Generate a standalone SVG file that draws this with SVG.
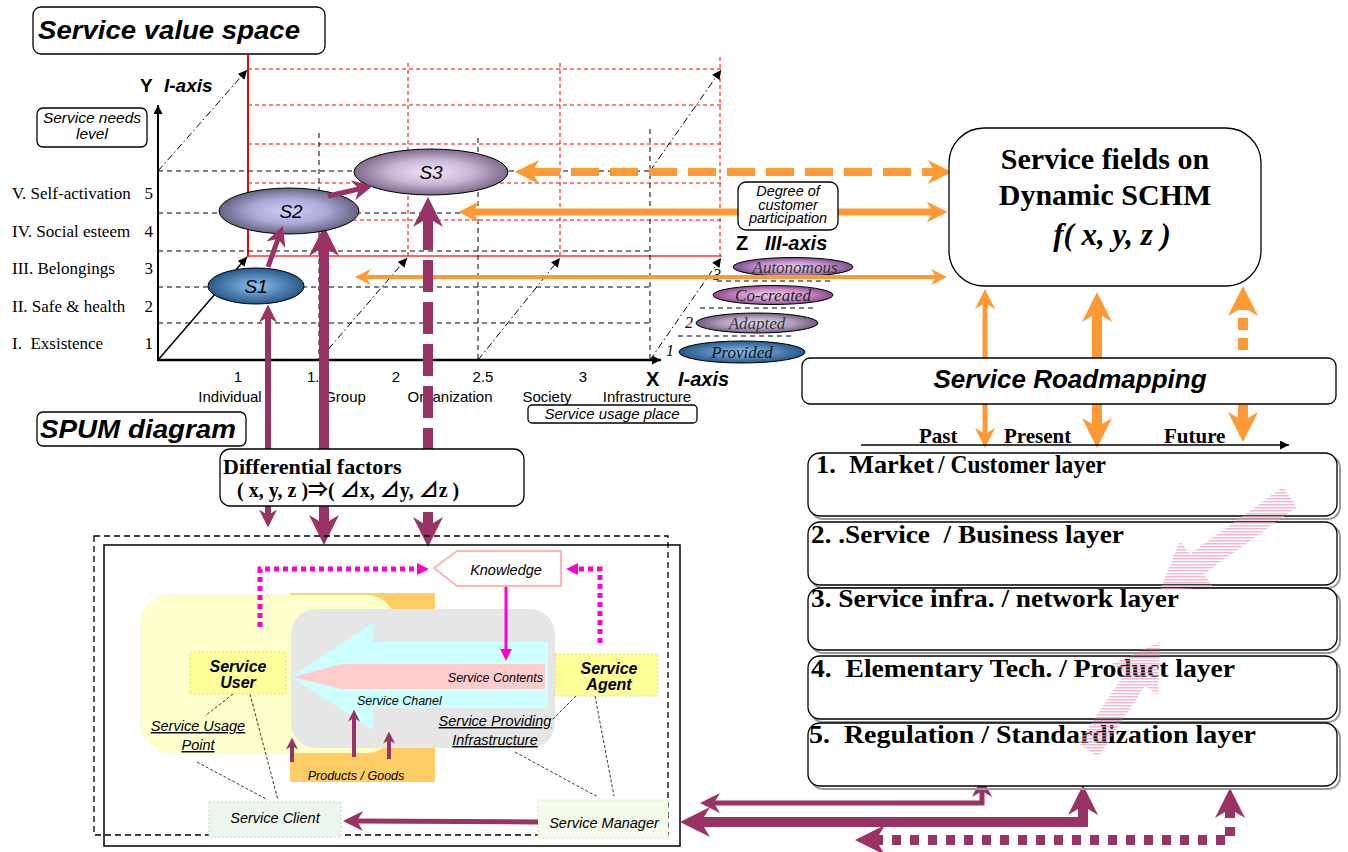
<svg xmlns="http://www.w3.org/2000/svg" width="1348" height="852" viewBox="0 0 1348 852">
<style>
  .sans{font-family:"Liberation Sans",Arial,sans-serif}
  .serif{font-family:"Liberation Serif","Times New Roman",serif}
  .box{fill:#fff;stroke:#000;stroke-width:1.3}
  .rd{stroke:#ff0000;stroke-width:1;stroke-dasharray:4 3;fill:none}
  .kd{stroke:#000;stroke-width:1;stroke-dasharray:5 4;fill:none}
  .dd{stroke:#000;stroke-width:1;stroke-dasharray:7 3 1.5 3;fill:none}
  .or{stroke:#ff9933;fill:none}
  .pu{stroke:#993366;fill:none}
  .mg{stroke:#ff00cc;fill:none}
  .lead{stroke:#000;stroke-width:0.8;stroke-dasharray:3 2;fill:none}
  .layer{fill:#fff;stroke:#000;stroke-width:1.3}
  .shadow{fill:none;stroke:#999;stroke-width:2}
  .lt{font-family:"Liberation Serif","Times New Roman",serif;font-weight:bold;font-size:26px}
</style>
<defs>
  <marker id="m-or3" viewBox="0 0 10 10" refX="3" refY="5" markerWidth="3" markerHeight="3" orient="auto-start-reverse" markerUnits="strokeWidth"><path d="M0,0 L10,5 L0,10 L3,5 z" fill="#ff9933"/></marker>
  <marker id="m-or4" viewBox="0 0 10 10" refX="3" refY="5" markerWidth="4" markerHeight="4" orient="auto-start-reverse" markerUnits="strokeWidth"><path d="M0,0 L10,5 L0,10 L3,5 z" fill="#ff9933"/></marker>
  <marker id="m-pu3" viewBox="0 0 10 10" refX="3" refY="5" markerWidth="3" markerHeight="3" orient="auto-start-reverse" markerUnits="strokeWidth"><path d="M0,0 L10,5 L0,10 L3,5 z" fill="#993366"/></marker>
  <marker id="m-pu4" viewBox="0 0 10 10" refX="3" refY="5" markerWidth="4" markerHeight="4" orient="auto-start-reverse" markerUnits="strokeWidth"><path d="M0,0 L10,5 L0,10 L3,5 z" fill="#993366"/></marker>
  <marker id="m-mg" viewBox="0 0 10 10" refX="1" refY="5" markerWidth="12" markerHeight="12" orient="auto" markerUnits="userSpaceOnUse"><path d="M0,0 L10,5 L0,10 z" fill="#ff00cc"/></marker>
  <marker id="m-k" viewBox="0 0 10 10" refX="10" refY="5" markerWidth="10" markerHeight="9" orient="auto" markerUnits="userSpaceOnUse"><path d="M0,0 L10,5 L0,10 z" fill="#000"/></marker>
  <radialGradient id="g-blue" cx="0.5" cy="0.5" r="0.55"><stop offset="0" stop-color="#8cc3ee"/><stop offset="1" stop-color="#1f4c80"/></radialGradient>
  <radialGradient id="g-s2" cx="0.5" cy="0.5" r="0.55"><stop offset="0" stop-color="#d0d0fa"/><stop offset="0.5" stop-color="#aaa8d6"/><stop offset="1" stop-color="#56546c"/></radialGradient>
  <radialGradient id="g-s3" cx="0.5" cy="0.5" r="0.55"><stop offset="0" stop-color="#f3e6f8"/><stop offset="0.5" stop-color="#c7b4d4"/><stop offset="1" stop-color="#6c5a7c"/></radialGradient>
  <radialGradient id="g-vio" cx="0.5" cy="0.5" r="0.55"><stop offset="0" stop-color="#ecd2f0"/><stop offset="0.55" stop-color="#bb8ec8"/><stop offset="1" stop-color="#6c3c7c"/></radialGradient>
  <radialGradient id="g-mag" cx="0.5" cy="0.5" r="0.55"><stop offset="0" stop-color="#f4d6f0"/><stop offset="0.55" stop-color="#c88ac4"/><stop offset="1" stop-color="#7a3a78"/></radialGradient>
  <radialGradient id="g-adp" cx="0.5" cy="0.5" r="0.55"><stop offset="0" stop-color="#e6dcea"/><stop offset="0.55" stop-color="#b09cbc"/><stop offset="1" stop-color="#5e4a6c"/></radialGradient>
  <pattern id="hatch" width="4" height="3" patternUnits="userSpaceOnUse"><rect width="4" height="1.5" fill="#f2a0c4"/></pattern>
</defs>

<!-- ========== Service value space ========== -->
<g id="title-svs">
  <rect class="box" x="33" y="7" width="292" height="47" rx="8"/>
  <text class="sans" x="38" y="39" font-size="26" font-weight="bold" font-style="italic" textLength="262" lengthAdjust="spacingAndGlyphs">Service value space</text>
</g>

<!-- grid of the value space -->
<g id="grid">
  <line x1="248" y1="54" x2="248" y2="257" stroke="#ff0000" stroke-width="2"/>
  <line class="rd" x1="248" y1="69" x2="722" y2="69"/>
  <line class="rd" x1="248" y1="105" x2="722" y2="105"/>
  <line class="rd" x1="248" y1="144" x2="722" y2="144"/>
  <line class="rd" x1="248" y1="183" x2="722" y2="183"/>
  <line class="rd" x1="248" y1="220" x2="722" y2="220"/>
  <line class="rd" x1="408" y1="63" x2="408" y2="256"/>
  <line class="rd" x1="560" y1="63" x2="560" y2="256"/>
  <line class="rd" x1="720" y1="57" x2="720" y2="256"/>
  <line x1="248" y1="256" x2="722" y2="256" stroke="#ff3333" stroke-width="1.5"/>

  <line class="kd" x1="158" y1="171" x2="650" y2="171"/>
  <line class="kd" x1="158" y1="213" x2="650" y2="213"/>
  <line class="kd" x1="158" y1="251" x2="652" y2="251"/>
  <line class="kd" x1="158" y1="287" x2="652" y2="287"/>
  <line class="kd" x1="158" y1="323" x2="650" y2="323"/>
  <line class="kd" x1="319" y1="133" x2="319" y2="360"/>
  <line class="kd" x1="478" y1="138" x2="478" y2="360"/>
  <line class="kd" x1="650" y1="129" x2="650" y2="360"/>

  <line class="dd" x1="158" y1="171" x2="247" y2="70" marker-end="url(#m-k)"/>
  <line class="dd" x1="650" y1="171" x2="721" y2="70" marker-end="url(#m-k)"/>
  <line class="dd" x1="319" y1="360" x2="407" y2="258" marker-end="url(#m-k)"/>
  <line class="dd" x1="478" y1="360" x2="560" y2="258" marker-end="url(#m-k)"/>
  <line class="dd" x1="650" y1="360" x2="721" y2="258" marker-end="url(#m-k)"/>
  <line x1="158" y1="360" x2="247" y2="257" stroke="#000" stroke-width="1.5" marker-end="url(#m-k)"/>

  <line x1="158" y1="361" x2="158" y2="105" stroke="#000" stroke-width="2" marker-end="url(#m-k)"/>
  <line x1="157" y1="360" x2="661" y2="360" stroke="#000" stroke-width="2.5" marker-end="url(#m-k)"/>

  <line class="kd" x1="717" y1="281" x2="833" y2="281"/>
  <line class="kd" x1="700" y1="308" x2="815" y2="308"/>
  <line class="kd" x1="678" y1="336" x2="793" y2="336"/>
</g>

<!-- axis captions -->
<g id="axis-y">
  <text class="sans" x="140" y="92" font-size="19" font-weight="bold">Y</text>
  <text class="sans" x="164" y="92" font-size="19" font-weight="bold" font-style="italic">I-axis</text>
  <rect class="box" x="37" y="108" width="110" height="39" rx="6" stroke-width="1"/>
  <text class="sans" x="92" y="123" font-size="15.5" font-style="italic" text-anchor="middle">Service needs</text>
  <text class="sans" x="92" y="139" font-size="15.5" font-style="italic" text-anchor="middle">level</text>
  <g class="serif" font-size="17">
    <text x="12" y="199">V. Self-activation</text><text x="153" y="199" text-anchor="end">5</text>
    <text x="12" y="237">IV. Social esteem</text><text x="153" y="237" text-anchor="end">4</text>
    <text x="12" y="274">III. Belongings</text><text x="153" y="274" text-anchor="end">3</text>
    <text x="12" y="312">II. Safe &amp; health</text><text x="153" y="312" text-anchor="end">2</text>
    <text x="12" y="349" xml:space="preserve">I.  Exsistence</text><text x="153" y="349" text-anchor="end">1</text>
  </g>
</g>

<g id="axis-x" class="sans" font-size="15">
  <text x="238" y="382" text-anchor="middle">1</text>
  <text x="307" y="382">1.5</text>
  <text x="396" y="382" text-anchor="middle">2</text>
  <text x="483" y="382" text-anchor="middle">2.5</text>
  <text x="583" y="382" text-anchor="middle">3</text>
  <text x="230" y="402" text-anchor="middle">Individual</text>
  <text x="345" y="402" text-anchor="middle">Group</text>
  <text x="450" y="402" text-anchor="middle">Organization</text>
  <text x="547" y="402" text-anchor="middle">Society</text>
  <text x="647" y="402" text-anchor="middle">Infrastructure</text>
  <text x="646" y="386" font-size="20" font-weight="bold">X</text>
  <text x="678" y="386" font-size="20" font-weight="bold" font-style="italic">I-axis</text>
  <rect class="box" x="528" y="405" width="169" height="18" rx="4" stroke-width="1"/>
  <text x="612" y="419" text-anchor="middle" font-style="italic">Service usage place</text>
</g>

<g id="axis-z">
  <text class="sans" x="736" y="250" font-size="20" font-weight="bold">Z</text>
  <text class="sans" x="765" y="250" font-size="20" font-weight="bold" font-style="italic">III-axis</text>
  <g class="serif" font-size="16" font-style="italic">
    <text x="713" y="280">3</text>
    <text x="685" y="328">2</text>
    <text x="666" y="356">1</text>
  </g>
</g>

<g id="z-autonomous">
  <ellipse cx="793" cy="267" rx="60" ry="9.5" fill="url(#g-vio)" stroke="#000" stroke-width="1"/>
  <text class="serif" x="795" y="273" font-size="17" font-style="italic" text-anchor="middle" fill="#333">Autonomous</text>
</g>
<g id="z-cocreated">
  <ellipse cx="773" cy="295" rx="60" ry="9.5" fill="url(#g-mag)" stroke="#000" stroke-width="1"/>
  <text class="serif" x="773" y="301" font-size="17" font-style="italic" text-anchor="middle" fill="#222">Co-created</text>
</g>
<g id="z-adapted">
  <ellipse cx="757" cy="323" rx="61" ry="10" fill="url(#g-adp)" stroke="#000" stroke-width="1"/>
  <text class="serif" x="757" y="329" font-size="17" font-style="italic" text-anchor="middle" fill="#333">Adapted</text>
</g>
<g id="z-provided">
  <ellipse cx="742" cy="352" rx="63" ry="11" fill="url(#g-blue)" stroke="#000" stroke-width="1"/>
  <text class="serif" x="742" y="358" font-size="17" font-style="italic" text-anchor="middle" fill="#111">Provided</text>
</g>

<!-- connectors -->
<g id="connectors">
  <!-- value space to Service fields -->
  <line class="or" x1="532" y1="172" x2="935" y2="172" stroke-width="8" stroke-dasharray="28 11" marker-start="url(#m-or3)" marker-end="url(#m-or3)"/>
  <line class="or" x1="473" y1="212" x2="933" y2="212" stroke-width="7" marker-start="url(#m-or3)" marker-end="url(#m-or3)"/>
  <line class="or" x1="366" y1="277" x2="936" y2="277" stroke-width="4" marker-start="url(#m-or4)" marker-end="url(#m-or4)"/>
  <!-- roadmapping to Service fields and timeline -->
  <line class="or" x1="985" y1="358" x2="985" y2="303" stroke-width="5" marker-end="url(#m-or4)"/>
  <line class="or" x1="985" y1="404" x2="985" y2="434" stroke-width="5" marker-end="url(#m-or4)"/>
  <line class="or" x1="1097" y1="358" x2="1097" y2="313" stroke-width="10" marker-end="url(#m-or3)"/>
  <line class="or" x1="1097" y1="404" x2="1097" y2="427" stroke-width="10" marker-end="url(#m-or3)"/>
  <line class="or" x1="1243" y1="350" x2="1243" y2="307" stroke-width="10" stroke-dasharray="12 8" marker-end="url(#m-or3)"/>
  <line class="or" x1="1243" y1="405" x2="1243" y2="421" stroke-width="10" marker-end="url(#m-or3)"/>

  <!-- value space down to SPUM -->
  <line class="pu" x1="268" y1="317" x2="268" y2="515" stroke-width="6" marker-start="url(#m-pu3)" marker-end="url(#m-pu3)"/>
  <line class="pu" x1="324" y1="247" x2="324" y2="524" stroke-width="10" marker-start="url(#m-pu3)" marker-end="url(#m-pu3)"/>
  <line class="pu" x1="428" y1="218" x2="428" y2="526" stroke-width="10" stroke-dasharray="32 10" marker-start="url(#m-pu3)" marker-end="url(#m-pu3)"/>

  <!-- SPUM to layers -->
  <polyline class="pu" points="982,791 982,803 714,803" stroke-width="5" marker-start="url(#m-pu4)" marker-end="url(#m-pu4)"/>
  <polyline class="pu" points="1083,806 1083,822 701,822" stroke-width="10" marker-start="url(#m-pu3)" marker-end="url(#m-pu3)"/>
  <polyline class="pu" points="1230,809 1230,840 876,840" stroke-width="10" stroke-dasharray="9 9" marker-start="url(#m-pu3)" marker-end="url(#m-pu3)"/>
</g>

<!-- value points -->
<g id="S1">
  <ellipse cx="256" cy="286" rx="48" ry="18" fill="url(#g-blue)" stroke="#000" stroke-width="1"/>
  <text class="sans" x="256" y="293" font-size="19" font-style="italic" text-anchor="middle">S1</text>
</g>
<g id="S2">
  <ellipse cx="289" cy="211" rx="70" ry="23" fill="url(#g-s2)" stroke="#000" stroke-width="1"/>
  <text class="sans" x="291" y="218" font-size="19" font-style="italic" text-anchor="middle">S2</text>
</g>
<g id="S3">
  <ellipse cx="431" cy="172" rx="77" ry="23" fill="url(#g-s3)" stroke="#000" stroke-width="1"/>
  <text class="sans" x="431" y="179" font-size="19" font-style="italic" text-anchor="middle">S3</text>
</g>
<g id="value-path">
  <line class="pu" x1="268" y1="267" x2="278" y2="239" stroke-width="5" marker-end="url(#m-pu4)"/>
  <line class="pu" x1="328" y1="196" x2="359" y2="189" stroke-width="5" marker-end="url(#m-pu4)"/>
</g>

<g id="degree-box">
  <rect class="box" x="738" y="182" width="100" height="48" rx="8" stroke-width="1"/>
  <g class="sans" font-size="14.5" font-style="italic" text-anchor="middle">
    <text x="788" y="195.5">Degree of</text>
    <text x="788" y="209.5">customer</text>
    <text x="788" y="223">participation</text>
  </g>
</g>

<!-- ========== right side ========== -->
<g id="service-fields">
  <rect class="box" x="949" y="128" width="312" height="158" rx="35" stroke-width="1.5"/>
  <g class="serif" font-weight="bold" text-anchor="middle">
    <text x="1105" y="169" font-size="30">Service fields on</text>
    <text x="1105" y="205" font-size="30">Dynamic SCHM</text>
    <text x="1112" y="245" font-size="31" font-style="italic">f( x, y, z )</text>
  </g>
</g>

<g id="roadmapping">
  <rect class="box" x="802" y="358" width="534" height="46" rx="8" stroke-width="1.3"/>
  <text class="sans" x="1070" y="388" font-size="26" font-weight="bold" font-style="italic" text-anchor="middle">Service Roadmapping</text>
</g>

<g id="timeline">
  <line x1="861" y1="445" x2="1289" y2="445" stroke="#000" stroke-width="1.5" marker-end="url(#m-k)"/>
  <g class="serif" font-size="21" font-weight="bold">
    <text x="919" y="443">Past</text>
    <text x="1004" y="443">Present</text>
    <text x="1164" y="443">Future</text>
  </g>
</g>

<g id="layer-1">
  <rect class="shadow" x="811" y="456" width="529" height="63" rx="12"/>
  <rect class="layer" x="808" y="453" width="529" height="63" rx="12"/>
  <text x="816" y="473" class="lt" font-size="27" xml:space="preserve" textLength="118" lengthAdjust="spacingAndGlyphs">1.  Market</text>
  <text x="938" y="473" class="lt" font-size="20" textLength="168" lengthAdjust="spacingAndGlyphs">/ Customer layer</text>
</g>
<g id="layer-2">
  <rect class="shadow" x="811" y="525" width="529" height="63" rx="12"/>
  <rect class="layer" x="808" y="522" width="529" height="63" rx="12"/>
  <text x="811" y="543" class="lt" xml:space="preserve" textLength="313" lengthAdjust="spacingAndGlyphs">2. .Service  / Business layer</text>
</g>
<g id="layer-3">
  <rect class="shadow" x="811" y="591" width="529" height="62" rx="12"/>
  <rect class="layer" x="808" y="588" width="529" height="62" rx="12"/>
  <text x="811" y="607" class="lt" textLength="368" lengthAdjust="spacingAndGlyphs">3. Service infra. / network layer</text>
</g>
<g id="layer-4">
  <rect class="shadow" x="811" y="659" width="529" height="63" rx="12"/>
  <rect class="layer" x="808" y="656" width="529" height="63" rx="12"/>
  <text x="811" y="677" class="lt" xml:space="preserve" textLength="424" lengthAdjust="spacingAndGlyphs">4.  Elementary Tech. / Product layer</text>
</g>
<g id="layer-5">
  <rect class="shadow" x="811" y="726" width="529" height="63" rx="12"/>
  <rect class="layer" x="808" y="723" width="529" height="63" rx="12"/>
  <text x="809" y="743" class="lt" xml:space="preserve" textLength="447" lengthAdjust="spacingAndGlyphs">5.  Regulation / Standardization layer</text>
</g>

<g id="layer-flows" opacity="0.75">
  <polygon points="1283,487 1190,554 1180,541 1160,590 1213,587 1204,574 1297,507" fill="url(#hatch)"/>
  <polygon points="1078,743 1125,673 1112,664 1160,642 1158,695 1145,686 1098,757" fill="url(#hatch)"/>
</g>

<!-- ========== SPUM diagram ========== -->
<g id="title-spum">
  <rect class="box" x="37" y="412" width="209" height="34" rx="6"/>
  <text class="sans" x="40" y="438" font-size="26" font-weight="bold" font-style="italic" textLength="196" lengthAdjust="spacingAndGlyphs">SPUM diagram</text>
</g>

<g id="differential">
  <rect class="box" x="220" y="449" width="304" height="57" rx="10"/>
  <text class="serif" x="223" y="474" font-size="22" font-weight="bold">Differential factors</text>
  <text x="237" y="497" font-size="20" font-weight="bold" font-family="'Liberation Serif','Noto Sans CJK JP',serif">( x, y, z )⇒( ⊿x, ⊿y, ⊿z )</text>
</g>

<g id="spum-frame">
  <rect x="94" y="536" width="574" height="299" fill="none" stroke="#000" stroke-width="1.3" stroke-dasharray="6 4"/>
  <rect x="104" y="545" width="576" height="301" fill="none" stroke="#000" stroke-width="1.5"/>
</g>

<g id="products">
  <rect x="290" y="593" width="145" height="189" fill="#ffcc66"/>
  <text class="sans" x="356" y="780" font-size="12.5" font-style="italic" text-anchor="middle">Products / Goods</text>
</g>
<g id="usage-point">
  <rect x="141" y="595" width="255" height="158" rx="30" fill="#ffffcc" stroke="#f4f4b0" stroke-width="1" stroke-dasharray="2 2"/>
</g>
<g id="infrastructure">
  <rect x="291" y="609" width="264" height="139" rx="25" fill="#e6e6e6"/>
</g>
<g id="channel">
  <polygon points="291,677 373,623 373,642 548,642 548,708 373,708 373,730" fill="#ccffff"/>
  <text class="sans" x="357" y="705" font-size="12.5" font-style="italic">Service Chanel</text>
</g>
<g id="contents">
  <polygon points="293,677 341,664 545,664 545,689 341,689" fill="#ffcccc"/>
  <text class="sans" x="543" y="682" font-size="12.5" font-style="italic" text-anchor="end">Service Contents</text>
</g>

<g id="leaders">
  <line class="lead" x1="233" y1="694" x2="205" y2="716"/>
  <line class="lead" x1="250" y1="694" x2="278" y2="800"/>
  <line class="lead" x1="197" y1="762" x2="268" y2="800"/>
  <line class="lead" x1="576" y1="696" x2="552" y2="720"/>
  <line class="lead" x1="595" y1="696" x2="614" y2="796"/>
  <line class="lead" x1="515" y1="752" x2="598" y2="797"/>
</g>

<g id="usage-point-label" class="sans" font-size="14.5" font-style="italic" text-decoration="underline" text-anchor="middle">
  <text x="198" y="731">Service Usage</text>
  <text x="198" y="750">Point</text>
</g>
<g id="infrastructure-label" class="sans" font-size="14.5" font-style="italic" text-decoration="underline" text-anchor="middle">
  <text x="495" y="726">Service Providing</text>
  <text x="495" y="745">Infrastructure</text>
</g>

<g id="service-user">
  <rect x="190" y="652" width="96" height="42" fill="#ffff99" stroke="#dddd88" stroke-width="1" stroke-dasharray="2 2"/>
  <text class="sans" x="238" y="672" font-size="16" font-weight="bold" font-style="italic" text-anchor="middle">Service</text>
  <text class="sans" x="238" y="688" font-size="16" font-weight="bold" font-style="italic" text-anchor="middle">User</text>
</g>
<g id="service-agent">
  <rect x="555" y="654" width="103" height="42" fill="#ffff99" stroke="#dddd88" stroke-width="1" stroke-dasharray="2 2"/>
  <text class="sans" x="609" y="674" font-size="16" font-weight="bold" font-style="italic" text-anchor="middle">Service</text>
  <text class="sans" x="609" y="690" font-size="16" font-weight="bold" font-style="italic" text-anchor="middle">Agent</text>
</g>

<g id="knowledge">
  <polygon points="434,568 457,551 561,551 561,586 457,586" fill="#fff" stroke="#ffb3b3" stroke-width="2"/>
  <text class="sans" x="506" y="575" font-size="14.5" font-style="italic" text-anchor="middle">Knowledge</text>
</g>

<g id="service-client">
  <rect x="209" y="802" width="132" height="35" fill="#edf5ef" stroke="#c8d8cc" stroke-width="1" stroke-dasharray="2 2"/>
  <text class="sans" x="275" y="823" font-size="14.5" font-style="italic" text-anchor="middle">Service Client</text>
</g>
<g id="service-manager">
  <rect x="538" y="800" width="130" height="38" fill="#f5fbe9" stroke="#d8e4c8" stroke-width="1" stroke-dasharray="2 2"/>
  <text class="sans" x="604" y="828" font-size="14.5" font-style="italic" text-anchor="middle">Service Manager</text>
</g>

<g id="spum-connectors">
  <polyline class="mg" points="260,627 260,569 418,569" stroke-width="5" stroke-dasharray="5 4" marker-end="url(#m-mg)"/>
  <polyline class="mg" points="600,643 600,569 577,569" stroke-width="5" stroke-dasharray="5 4" marker-end="url(#m-mg)"/>
  <line class="mg" x1="506" y1="587" x2="506" y2="650" stroke-width="3" marker-end="url(#m-mg)"/>
  <line class="pu" x1="292" y1="762" x2="292" y2="746" stroke-width="4" marker-end="url(#m-pu3)"/>
  <line class="pu" x1="354" y1="757" x2="354" y2="718" stroke-width="4" marker-end="url(#m-pu3)"/>
  <line class="pu" x1="389" y1="759" x2="389" y2="740" stroke-width="4" marker-end="url(#m-pu3)"/>
  <line class="pu" x1="538" y1="822" x2="357" y2="821" stroke-width="5" marker-end="url(#m-pu4)"/>
</g>
</svg>
